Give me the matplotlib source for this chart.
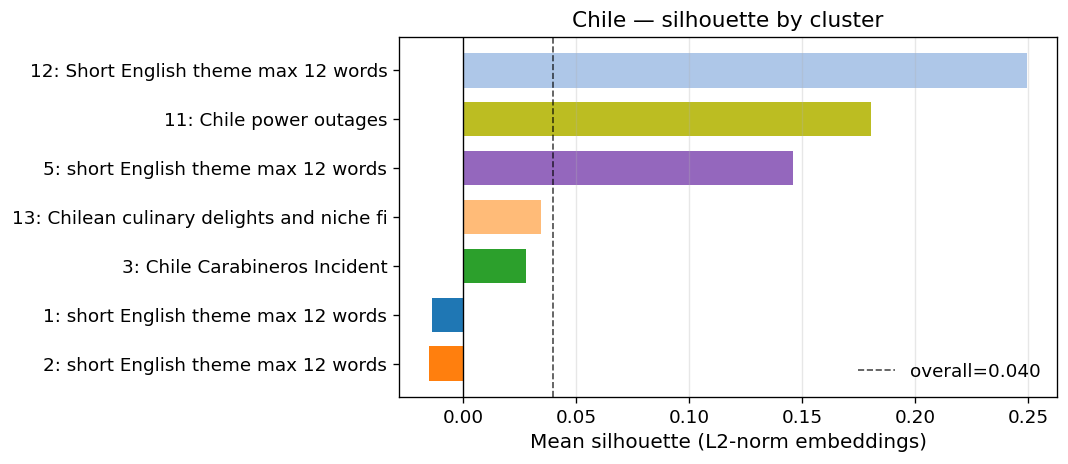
import numpy as np
import matplotlib
matplotlib.use("Agg")
import matplotlib.pyplot as plt

# clusters ordered bottom -> top (ascending silhouette)
labels = [
    "2: short English theme max 12 words",
    "1: short English theme max 12 words",
    "3: Chile Carabineros Incident",
    "13: Chilean culinary delights and niche fi",
    "5: short English theme max 12 words",
    "11: Chile power outages",
    "12: Short English theme max 12 words",
]
silhouette = [-0.0151, -0.0138, 0.0280, 0.0347, 0.1458, 0.1805, 0.2495]
colors = ["#ff7f0e", "#1f77b4", "#2ca02c", "#ffbb78", "#9467bd", "#bcbd22", "#aec7e8"]
overall = 0.040

fig, ax = plt.subplots(figsize=(8.9, 3.8667), dpi=120)
y = np.arange(len(labels))
ax.barh(y, silhouette, height=0.7, color=colors)
ax.set_yticks(y)
ax.set_yticklabels(labels, fontsize=11)
ax.tick_params(axis="x", labelsize=11)
ax.axvline(0, color="black", linewidth=0.8)
ax.axvline(overall, color="black", alpha=0.7, linestyle="--", linewidth=1,
           label=f"overall={overall:.3f}")
ax.grid(axis="x", alpha=0.3)
ax.set_xlabel("Mean silhouette (L2-norm embeddings)", fontsize=12)
ax.set_title("Chile — silhouette by cluster", fontsize=13)
ax.legend(loc="lower right", frameon=False, fontsize=11)
fig.subplots_adjust(left=0.3736, right=0.9897, top=0.9203, bottom=0.1444)
fig.savefig("out.png")
